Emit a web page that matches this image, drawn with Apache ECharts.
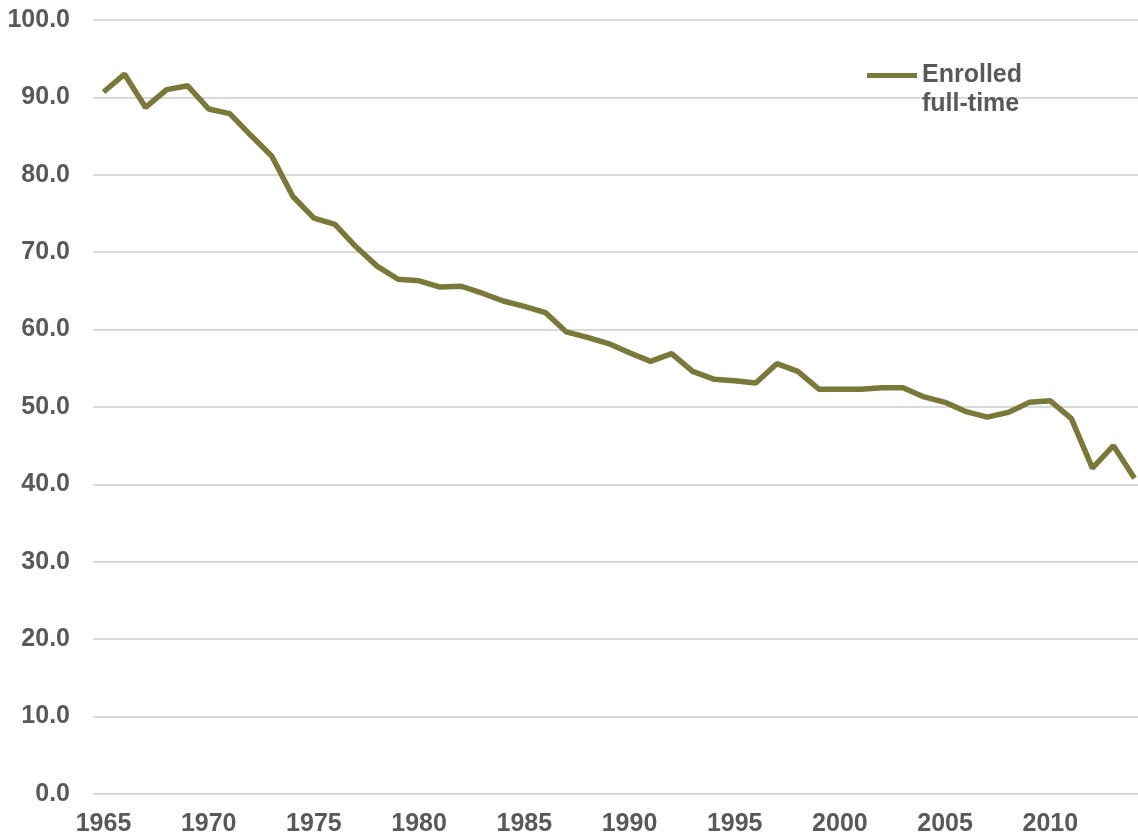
<!DOCTYPE html>
<html>
<head>
<meta charset="utf-8">
<script src="https://cdn.jsdelivr.net/npm/echarts@6/dist/echarts.min.js"></script>
<style>html,body{margin:0;padding:0;background:#fff}#c{width:1138px;height:838px}</style>
</head>
<body>
<div id="c"></div>
<script>
const years = [];
for (let y = 1965; y <= 2014; y++) years.push(String(y));
const seriesName = 'Enrolled\nfull-time';
const enrolledFullTime = [
  90.7, 93.0, 88.7, 91.0, 91.5, 88.5, 87.9, 85.1, 82.4, 77.2,
  74.4, 73.6, 70.7, 68.2, 66.5, 66.3, 65.5, 65.6, 64.7, 63.7,
  63.0, 62.2, 59.7, 59.0, 58.2, 57.0, 55.9, 56.9, 54.6, 53.6,
  53.4, 53.1, 55.6, 54.6, 52.3, 52.3, 52.3, 52.5, 52.5, 51.3,
  50.6, 49.4, 48.7, 49.3, 50.6, 50.8, 48.5, 42.1, 45.0, 40.8
];
const yTicks = { min: 0, max: 100, interval: 10 };

const txt = '#595959';
const font = '"Liberation Sans", Arial, sans-serif';
const chart = echarts.init(document.getElementById('c'), null, { renderer: 'canvas' });
chart.setOption({
  animation: false,
  backgroundColor: '#fff',
  grid: { left: 93, right: -7, top: 20, bottom: 44, containLabel: false, outerBoundsMode: 'none' },
  legend: {
    left: 867, top: 32, padding: 0,
    icon: 'rect', itemWidth: 50, itemHeight: 5, itemGap: 6,
    data: [seriesName],
    formatter: name => ' \n' + name,
    textStyle: { color: txt, fontFamily: font, fontWeight: 'bold', fontSize: 25, lineHeight: 29 }
  },
  xAxis: {
    type: 'category', data: years, boundaryGap: true,
    axisLine: { show: false }, axisTick: { show: false },
    axisLabel: { interval: 4, color: txt, fontFamily: font, fontWeight: 'bold', fontSize: 25, margin: 18 },
    splitLine: { show: false }
  },
  yAxis: {
    type: 'value', min: yTicks.min, max: yTicks.max, interval: yTicks.interval,
    axisLine: { show: false }, axisTick: { show: false },
    axisLabel: { color: txt, fontFamily: font, fontWeight: 'bold', fontSize: 25, margin: 23, formatter: v => v.toFixed(1) },
    splitLine: { lineStyle: { color: '#d9d9d9', width: 2 } }
  },
  series: [{
    name: seriesName, type: 'line', data: enrolledFullTime,
    symbol: 'none', smooth: false,
    lineStyle: { color: '#7a793a', width: 5.5 },
    itemStyle: { color: '#7a793a' }
  }]
});
</script>
</body>
</html>
